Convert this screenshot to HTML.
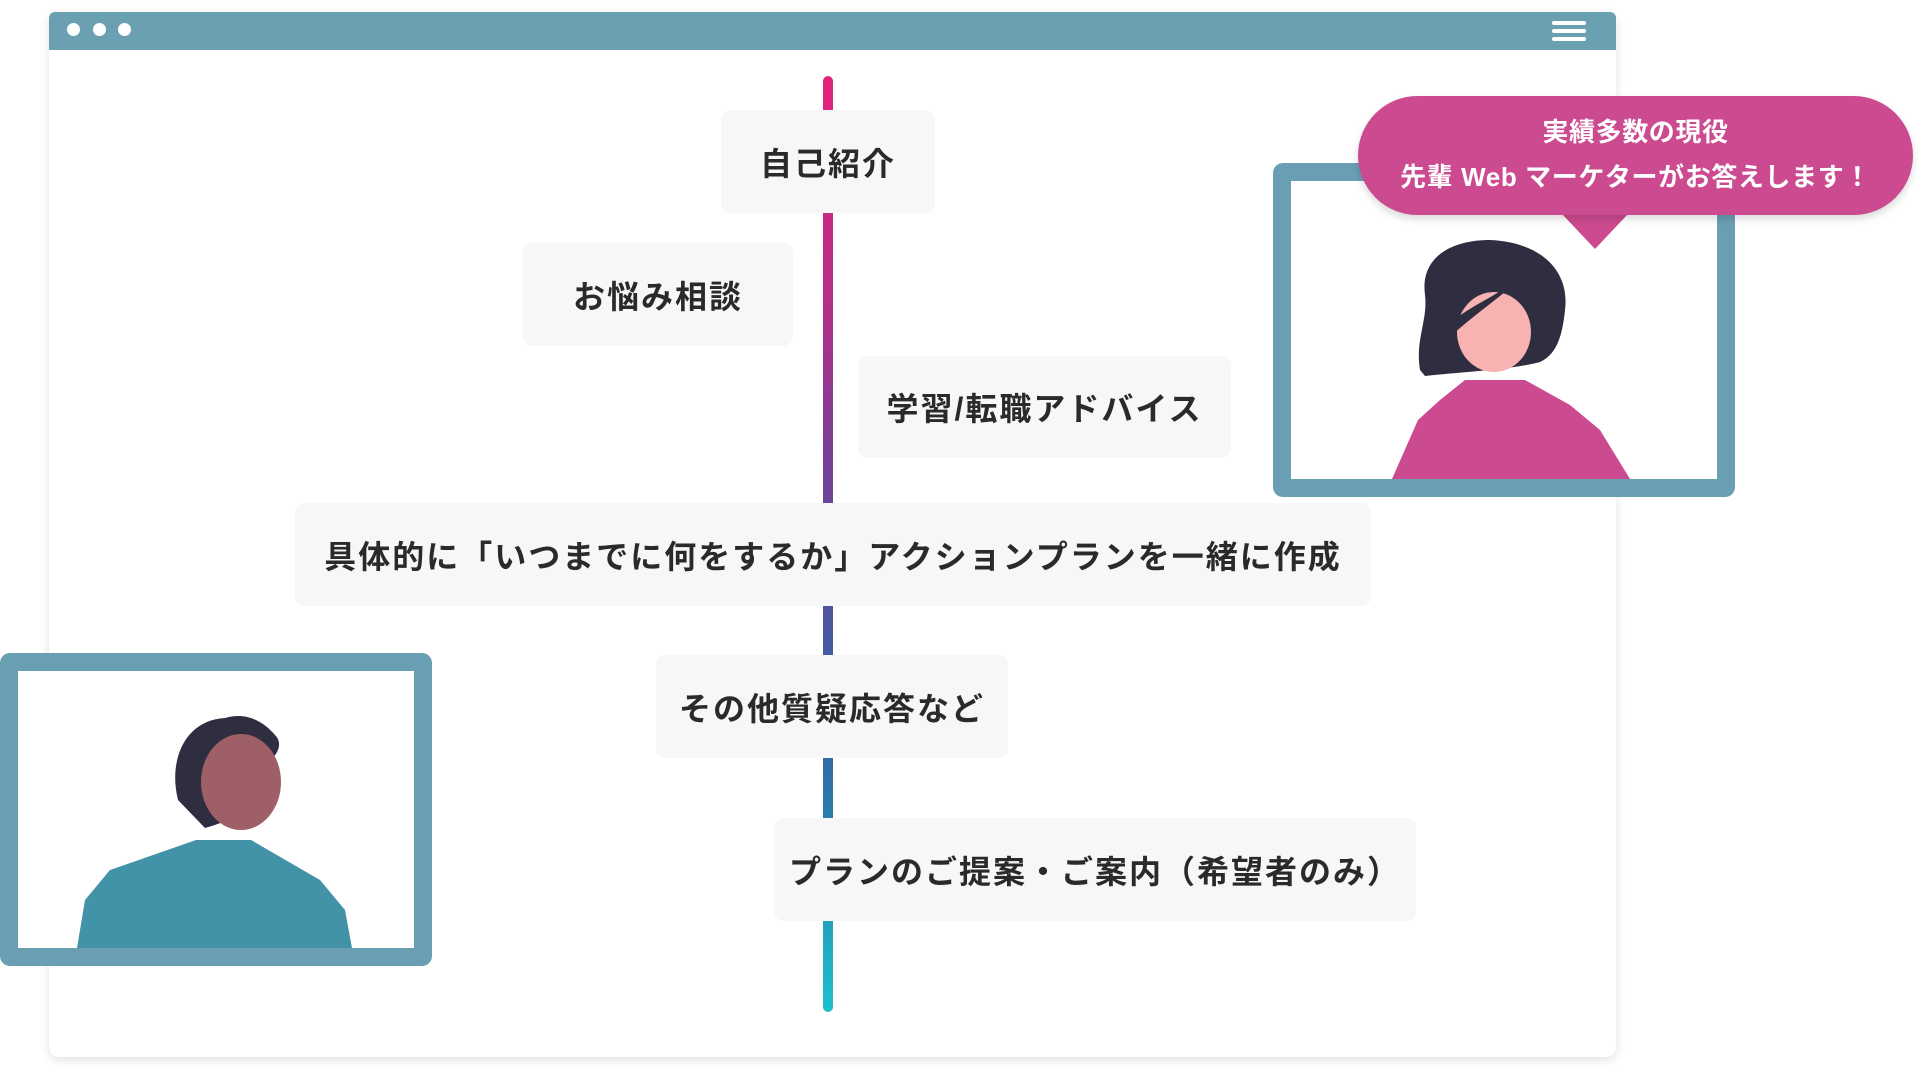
<!DOCTYPE html>
<html><head><meta charset="utf-8"><style>
body{margin:0;width:1920px;height:1081px;background:#fff;position:relative;overflow:hidden;font-family:"Liberation Sans","Noto Sans CJK JP",sans-serif;}
.win{position:absolute;left:49px;top:12px;width:1567px;height:1045px;background:#fff;border-radius:10px;box-shadow:0 3px 10px rgba(0,0,0,.12);}
.bar{position:absolute;left:49px;top:12px;width:1567px;height:38px;background:#6ba0b3;border-radius:6px 6px 0 0;}
.dot{position:absolute;top:23px;width:13px;height:13px;border-radius:50%;background:#fff;}
.ham{position:absolute;left:1552px;width:34px;height:4px;background:#fff;border-radius:2px;}
.line{position:absolute;left:823px;top:76px;width:10px;height:936px;border-radius:5px;background:linear-gradient(#e3227b,#b23089 25%,#7a3f95 40%,#4858a0 60%,#2f70a8 75%,#1cc0cc);}
.box{position:absolute;background:#f7f7f7;border-radius:10px;display:flex;align-items:center;justify-content:center;font-size:32px;font-weight:bold;color:#2a2a2a;white-space:nowrap;letter-spacing:2px;}
.frame{position:absolute;background:#fff;border:18px solid #6a9fb3;border-radius:10px;box-sizing:border-box;}
.bub{position:absolute;left:1358px;top:96px;width:555px;height:119px;background:#cc4a8f;border-radius:60px;color:#fff;font-size:26px;font-weight:bold;text-align:center;line-height:45px;padding-top:14px;box-sizing:border-box;box-shadow:0 4px 8px rgba(0,0,0,.15);letter-spacing:0.6px;}
</style></head><body>
<div class="win"></div>
<div class="bar"></div>
<div class="dot" style="left:67px"></div><div class="dot" style="left:93px"></div><div class="dot" style="left:118px"></div>
<div class="ham" style="top:21px"></div><div class="ham" style="top:29px"></div><div class="ham" style="top:37px"></div>
<div class="line"></div>
<div class="box" style="left:721px;top:110px;width:214px;height:103px">自己紹介</div>
<div class="box" style="left:523px;top:243px;width:270px;height:103px">お悩み相談</div>
<div class="box" style="left:858px;top:356px;width:373px;height:102px">学習/転職アドバイス</div>
<div class="box" style="left:295px;top:503px;width:1076px;height:103px">具体的に「いつまでに何をするか」アクションプランを一緒に作成</div>
<div class="box" style="left:656px;top:655px;width:352px;height:103px">その他質疑応答など</div>
<div class="box" style="left:774px;top:818px;width:642px;height:103px">プランのご提案・ご案内（希望者のみ）</div>
<div class="frame" style="left:1273px;top:163px;width:462px;height:334px"></div>
<div class="frame" style="left:0;top:653px;width:432px;height:313px"></div>
<svg width="1920" height="1081" style="position:absolute;left:0;top:0">
<path d="M1420,370 C1415,340 1428,320 1425,295 C1420,258 1450,240 1490,240 C1540,242 1570,270 1565,310 C1562,340 1555,355 1540,362 C1510,370 1460,372 1425,376 Z" fill="#2f2e41"/>
<ellipse cx="1494" cy="332" rx="37" ry="40" fill="#f8b2b2"/>
<path d="M1448,325 C1470,305 1500,295 1515,280 L1530,270 C1510,290 1480,310 1452,335 Z" fill="#2f2e41"/>
<path d="M1465,380 L1525,380 L1570,405 L1600,430 L1630,479 L1392,479 L1418,420 L1440,400 Z" fill="#cc4a8f"/>
<path d="M178,800 C168,760 185,720 225,718 C245,712 262,720 275,735 C285,745 275,760 262,765 C270,800 250,815 205,828 Z" fill="#2f2e41"/>
<ellipse cx="241" cy="782" rx="40" ry="48" fill="#9e5f66"/>
<path d="M196,840 L251,840 L320,880 L345,910 L352,948 L77,948 L85,900 L110,870 Z" fill="#4292a8"/>
<polygon points="1562,214 1628,214 1595,249" fill="#cc4a8f"/>
</svg>
<div class="bub">実績多数の現役<br>先輩 Web マーケターがお答えします！</div>
</body></html>
